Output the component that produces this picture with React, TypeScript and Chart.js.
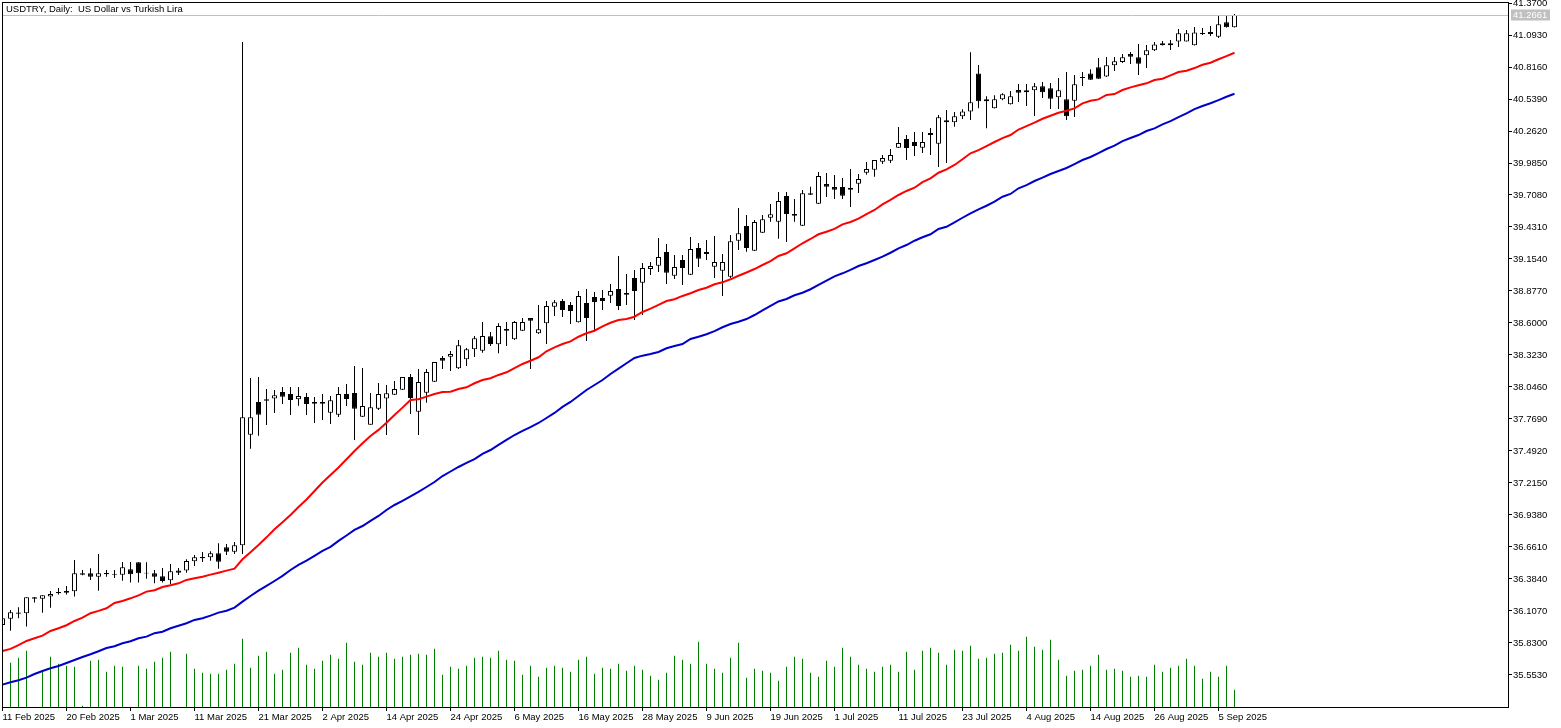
import { useEffect, useRef } from "react";
import { Chart, registerables } from "chart.js";
import type { Plugin } from "chart.js";

Chart.register(...registerables);

const title = "USDTRY, Daily:  US Dollar vs Turkish Lira";
const lastPrice = 41.2661;

// daily bars, left to right
const opens = [
  35.986, 36.040, 36.094, 36.087, 36.225, 36.213, 36.231, 36.271, 36.280, 36.277,
  36.433, 36.433, 36.403, 36.435, 36.421, 36.421, 36.468, 36.528, 36.438, 36.433,
  36.407, 36.372, 36.456, 36.456, 36.537, 36.574, 36.571, 36.606, 36.658, 36.620,
  36.675, 37.633, 37.916, 37.939, 37.945, 38.002, 37.985, 37.939, 37.959, 37.916,
  37.916, 37.823, 37.806, 37.985, 37.994, 37.789, 37.719, 37.858, 37.945, 37.979,
  38.022, 38.132, 37.832, 37.996, 38.092, 38.297, 38.308, 38.208, 38.286, 38.372,
  38.360, 38.485, 38.415, 38.548, 38.459, 38.533, 38.643, 38.511, 38.597, 38.741,
  38.790, 38.756, 38.606, 38.773, 38.825, 38.816, 38.836, 38.894, 38.860, 38.989,
  38.949, 39.067, 39.096, 39.214, 39.009, 39.145, 39.018, 39.249, 39.214, 39.087,
  39.053, 39.001, 39.312, 39.440, 39.226, 39.381, 39.511, 39.477, 39.699, 39.543,
  39.442, 39.723, 39.633, 39.803, 39.777, 39.777, 39.768, 39.806, 39.901, 39.927,
  39.996, 40.005, 40.117, 40.193, 40.167, 40.117, 40.245, 40.152, 40.337, 40.337,
  40.389, 40.432, 40.761, 40.519, 40.458, 40.536, 40.493, 40.617, 40.597, 40.614,
  40.649, 40.632, 40.554, 40.536, 40.524, 40.729, 40.761, 40.813, 40.735, 40.831,
  40.859, 40.929, 40.900, 40.917, 40.961, 41.004, 41.021, 41.038, 41.038, 41.004,
  41.110, 41.119, 41.078, 41.203, 41.160,
];
const highs = [
  36.055, 36.115, 36.139, 36.225, 36.228, 36.243, 36.280, 36.305, 36.323, 36.548,
  36.461, 36.476, 36.600, 36.461, 36.461, 36.531, 36.531, 36.528, 36.528, 36.461,
  36.479, 36.514, 36.479, 36.554, 36.591, 36.617, 36.623, 36.693, 36.687, 36.704,
  41.032, 38.124, 38.132, 38.028, 38.020, 38.046, 38.046, 38.046, 37.994, 37.959,
  37.985, 37.968, 38.046, 38.072, 38.228, 38.210, 37.994, 38.080, 38.063, 38.098,
  38.132, 38.158, 38.202, 38.202, 38.262, 38.314, 38.357, 38.453, 38.383, 38.487,
  38.608, 38.522, 38.597, 38.608, 38.617, 38.643, 38.643, 38.756, 38.790, 38.799,
  38.808, 38.782, 38.877, 38.894, 38.868, 38.885, 38.937, 39.180, 39.024, 39.059,
  39.119, 39.128, 39.336, 39.284, 39.188, 39.188, 39.344, 39.292, 39.318, 39.353,
  39.197, 39.362, 39.595, 39.535, 39.491, 39.535, 39.630, 39.734, 39.734, 39.673,
  39.751, 39.780, 39.907, 39.898, 39.881, 39.855, 39.933, 39.890, 39.994, 40.011,
  40.054, 40.106, 40.297, 40.227, 40.253, 40.253, 40.288, 40.400, 40.444, 40.426,
  40.450, 40.943, 40.833, 40.562, 40.571, 40.588, 40.608, 40.669, 40.669, 40.677,
  40.686, 40.677, 40.721, 40.773, 40.747, 40.773, 40.796, 40.894, 40.903, 40.903,
  40.929, 40.946, 41.015, 41.006, 41.032, 41.041, 41.050, 41.145, 41.136, 41.162,
  41.154, 41.171, 41.257, 41.266, 41.275,
];
const lows = [
  35.925, 35.936, 36.044, 35.971, 36.179, 36.092, 36.135, 36.248, 36.248, 36.231,
  36.416, 36.375, 36.282, 36.403, 36.392, 36.369, 36.352, 36.352, 36.386, 36.346,
  36.352, 36.340, 36.418, 36.438, 36.496, 36.531, 36.542, 36.473, 36.591, 36.600,
  36.600, 37.512, 37.624, 37.717, 37.821, 37.899, 37.803, 37.884, 37.803, 37.734,
  37.760, 37.725, 37.786, 37.881, 37.587, 37.786, 37.719, 37.847, 37.630, 37.976,
  38.020, 37.812, 37.630, 37.910, 38.089, 38.202, 38.184, 38.202, 38.228, 38.305,
  38.343, 38.401, 38.337, 38.401, 38.453, 38.530, 38.202, 38.505, 38.418, 38.660,
  38.652, 38.591, 38.604, 38.444, 38.539, 38.712, 38.773, 38.712, 38.756, 38.626,
  38.669, 39.015, 39.041, 38.937, 38.981, 38.929, 39.015, 39.085, 39.145, 38.989,
  38.834, 38.989, 39.232, 39.217, 39.223, 39.379, 39.477, 39.330, 39.301, 39.477,
  39.440, 39.708, 39.630, 39.691, 39.673, 39.673, 39.604, 39.725, 39.884, 39.866,
  39.976, 39.985, 40.115, 40.011, 40.046, 40.071, 40.054, 39.950, 39.985, 40.299,
  40.366, 40.357, 40.458, 40.285, 40.457, 40.528, 40.491, 40.513, 40.478, 40.392,
  40.548, 40.452, 40.452, 40.357, 40.383, 40.651, 40.703, 40.712, 40.729, 40.781,
  40.851, 40.842, 40.747, 40.807, 40.954, 41.002, 40.963, 40.989, 41.037, 41.002,
  41.093, 41.084, 41.067, 41.158, 41.158,
];
const closes = [
  36.044, 36.096, 36.083, 36.225, 36.213, 36.243, 36.254, 36.260, 36.265, 36.433,
  36.421, 36.403, 36.433, 36.424, 36.427, 36.485, 36.424, 36.433, 36.430, 36.403,
  36.366, 36.450, 36.438, 36.540, 36.571, 36.563, 36.606, 36.533, 36.620, 36.675,
  37.783, 37.783, 37.806, 37.927, 37.974, 37.962, 37.933, 37.968, 37.899, 37.901,
  37.901, 37.931, 37.985, 37.942, 37.858, 37.881, 37.870, 37.985, 37.991, 38.028,
  38.132, 37.950, 38.089, 38.176, 38.262, 38.273, 38.331, 38.407, 38.372, 38.467,
  38.487, 38.418, 38.574, 38.533, 38.608, 38.608, 38.620, 38.545, 38.747, 38.779,
  38.712, 38.704, 38.834, 38.643, 38.782, 38.790, 38.877, 38.747, 38.845, 38.877,
  39.076, 39.093, 39.171, 39.035, 39.085, 39.076, 39.240, 39.156, 39.197, 39.128,
  39.128, 39.307, 39.376, 39.249, 39.474, 39.497, 39.541, 39.656, 39.543, 39.529,
  39.723, 39.711, 39.872, 39.780, 39.754, 39.702, 39.754, 39.846, 39.933, 40.011,
  40.028, 40.054, 40.158, 40.115, 40.132, 40.167, 40.227, 40.381, 40.355, 40.389,
  40.432, 40.510, 40.519, 40.536, 40.536, 40.580, 40.562, 40.593, 40.614, 40.649,
  40.597, 40.542, 40.614, 40.389, 40.666, 40.721, 40.706, 40.715, 40.831, 40.865,
  40.900, 40.905, 40.845, 40.961, 41.012, 41.021, 41.004, 41.108, 41.108, 41.116,
  41.102, 41.102, 41.186, 41.160, 41.2661,
];

// red moving average
const maFast = [
  35.760, 35.778, 35.810, 35.847, 35.870, 35.893, 35.933, 35.957, 35.983, 36.020,
  36.049, 36.087, 36.107, 36.130, 36.176, 36.193, 36.216, 36.242, 36.274, 36.286,
  36.314, 36.329, 36.346, 36.375, 36.390, 36.403, 36.421, 36.438, 36.456, 36.473,
  36.554, 36.615, 36.678, 36.744, 36.814, 36.874, 36.938, 37.007, 37.072, 37.145,
  37.219, 37.284, 37.349, 37.420, 37.492, 37.558, 37.622, 37.674, 37.737, 37.803,
  37.867, 37.933, 37.939, 37.962, 37.985, 38.002, 38.005, 38.028, 38.043, 38.078,
  38.106, 38.121, 38.150, 38.173, 38.210, 38.245, 38.273, 38.303, 38.355, 38.389,
  38.418, 38.441, 38.481, 38.511, 38.533, 38.571, 38.602, 38.626, 38.634, 38.654,
  38.695, 38.724, 38.756, 38.790, 38.805, 38.834, 38.857, 38.885, 38.905, 38.935,
  38.952, 38.978, 39.009, 39.037, 39.067, 39.102, 39.136, 39.180, 39.203, 39.246,
  39.290, 39.327, 39.368, 39.390, 39.414, 39.454, 39.474, 39.503, 39.543, 39.578,
  39.627, 39.665, 39.708, 39.743, 39.771, 39.820, 39.852, 39.901, 39.930, 39.968,
  40.017, 40.069, 40.097, 40.132, 40.167, 40.201, 40.227, 40.275, 40.305, 40.334,
  40.368, 40.394, 40.420, 40.438, 40.458, 40.502, 40.524, 40.536, 40.574, 40.582,
  40.617, 40.640, 40.658, 40.675, 40.703, 40.715, 40.744, 40.773, 40.784, 40.807,
  40.836, 40.853, 40.883, 40.911, 40.940,
];

// blue moving average
const maSlow = [
  35.469, 35.489, 35.507, 35.529, 35.561, 35.587, 35.611, 35.630, 35.656, 35.682,
  35.708, 35.732, 35.758, 35.786, 35.801, 35.827, 35.844, 35.870, 35.884, 35.914,
  35.927, 35.957, 35.979, 36.000, 36.029, 36.044, 36.066, 36.092, 36.109, 36.135,
  36.187, 36.236, 36.282, 36.323, 36.366, 36.410, 36.461, 36.505, 36.542, 36.583,
  36.626, 36.661, 36.713, 36.760, 36.808, 36.842, 36.886, 36.929, 36.981, 37.024,
  37.059, 37.098, 37.137, 37.180, 37.223, 37.275, 37.314, 37.353, 37.388, 37.422,
  37.466, 37.500, 37.544, 37.587, 37.630, 37.665, 37.699, 37.734, 37.777, 37.821,
  37.873, 37.916, 37.968, 38.020, 38.063, 38.106, 38.158, 38.204, 38.251, 38.297,
  38.317, 38.331, 38.349, 38.381, 38.401, 38.418, 38.461, 38.481, 38.502, 38.530,
  38.563, 38.591, 38.611, 38.634, 38.669, 38.708, 38.747, 38.786, 38.808, 38.840,
  38.862, 38.892, 38.929, 38.966, 39.004, 39.030, 39.059, 39.093, 39.117, 39.145,
  39.174, 39.208, 39.246, 39.275, 39.312, 39.342, 39.368, 39.414, 39.433, 39.472,
  39.511, 39.549, 39.584, 39.615, 39.650, 39.693, 39.717, 39.766, 39.794, 39.829,
  39.859, 39.890, 39.916, 39.942, 39.976, 40.011, 40.037, 40.071, 40.106, 40.136,
  40.175, 40.201, 40.227, 40.262, 40.285, 40.320, 40.348, 40.383, 40.415, 40.452,
  40.478, 40.502, 40.530, 40.559, 40.585,
];

// tick volume
const volumes = [
  0, 443, 493, 563, 0, 350, 503, 433, 413, 403,
  13, 463, 473, 353, 413, 403, 0, 413, 383, 453,
  493, 553, 0, 533, 383, 343, 333, 333, 373, 433,
  683, 393, 513, 553, 333, 373, 543, 593, 423, 383,
  463, 523, 483, 643, 453, 423, 543, 503, 543, 483,
  503, 523, 533, 523, 583, 323, 403, 383, 413, 493,
  503, 493, 563, 473, 463, 323, 413, 303, 393, 413,
  393, 353, 473, 503, 333, 393, 383, 433, 363, 413,
  373, 313, 273, 343, 513, 473, 433, 653, 433, 383,
  343, 493, 643, 293, 383, 363, 343, 263, 403, 503,
  483, 343, 303, 463, 403, 593, 503, 423, 383, 353,
  403, 423, 353, 553, 373, 563, 593, 543, 423, 573,
  563, 613, 483, 493, 533, 543, 623, 563, 703, 603,
  573, 673, 473, 313, 363, 373, 413, 523, 373, 383,
  363, 303, 313, 303, 423, 353, 393, 413, 483, 413,
  283, 353, 303, 413, 173,
];

const priceTicks = [
  41.37, 41.093, 40.816, 40.539, 40.262, 39.985, 39.708, 39.431, 39.154, 38.877, 38.6,
  38.323, 38.046, 37.769, 37.492, 37.215, 36.938, 36.661, 36.384, 36.107, 35.83, 35.553,
];
const dateTickBars = [
  0, 8, 16, 24, 32, 40, 48, 56, 64, 72, 80, 88, 96, 104, 112, 120, 128, 136, 144, 152,
];
const dateTickLabels = [
  "11 Feb 2025", "20 Feb 2025", "1 Mar 2025", "11 Mar 2025", "21 Mar 2025", "2 Apr 2025",
  "14 Apr 2025", "24 Apr 2025", "6 May 2025", "16 May 2025", "28 May 2025", "9 Jun 2025",
  "19 Jun 2025", "1 Jul 2025", "11 Jul 2025", "23 Jul 2025", "4 Aug 2025", "14 Aug 2025",
  "26 Aug 2025", "5 Sep 2025",
];

const FONT = "Liberation Sans";
const FONT_SIZE = 9.5;

// frame, last price line and tag, symbol caption
const terminalLook: Plugin<"bar"> = {
  id: "terminalLook",
  afterDraw(chart) {
    const { ctx, chartArea, scales } = chart;
    const { left, right, top, bottom } = chartArea;
    const y = Math.round(scales.y.getPixelForValue(lastPrice)) + 0.5;
    ctx.save();
    ctx.lineWidth = 1;
    ctx.strokeStyle = "#c0c0c0";
    ctx.beginPath();
    ctx.moveTo(left, y);
    ctx.lineTo(right, y);
    ctx.stroke();
    ctx.strokeStyle = "#000";
    ctx.strokeRect(left + 0.5, top + 0.5, right - left, bottom - top);
    ctx.fillStyle = "#c0c0c0";
    ctx.fillRect(right + 3, y - 6, 39, 11);
    ctx.font = `${FONT_SIZE}px "${FONT}"`;
    ctx.textBaseline = "middle";
    ctx.fillStyle = "#fff";
    ctx.fillText(lastPrice.toFixed(4), right + 5, y);
    ctx.fillStyle = "#000";
    ctx.fillText(title, left + 4, 9);
    ctx.restore();
  },
};

export default function App() {
  const canvasRef = useRef<HTMLCanvasElement | null>(null);

  useEffect(() => {
    if (!canvasRef.current) return;

    const bodyColors = closes.map((c, i) => (c >= opens[i] ? "#ffffff" : "#000000"));

    const chart = new Chart(canvasRef.current, {
      type: "bar",
      data: {
        datasets: [
          {
            type: "line",
            data: maFast.map((y, x) => ({ x, y })),
            borderColor: "#ff0000",
            borderWidth: 2,
            pointRadius: 0,
            order: 1,
          },
          {
            type: "line",
            data: maSlow.map((y, x) => ({ x, y })),
            borderColor: "#0000cd",
            borderWidth: 2,
            pointRadius: 0,
            order: 1,
          },
          {
            data: opens.map((o, x) => ({ x, y: [o, closes[x]] })),
            backgroundColor: bodyColors,
            borderColor: "#000000",
            borderWidth: 1,
            borderSkipped: false,
            barThickness: 5,
            grouped: false,
            inflateAmount: 0,
            order: 2,
          },
          {
            data: lows.map((l, x) => ({ x, y: [l, highs[x]] })),
            backgroundColor: "#000000",
            borderWidth: 0,
            barThickness: 1,
            grouped: false,
            inflateAmount: 0,
            order: 3,
          },
          {
            data: volumes.map((y, x) => ({ x, y })),
            yAxisID: "vol",
            backgroundColor: "#008000",
            borderWidth: 0,
            barThickness: 1,
            grouped: false,
            inflateAmount: 0,
            order: 4,
          },
        ],
      } as any,
      options: {
        animation: false,
        responsive: false,
        devicePixelRatio: 1,
        events: [],
        layout: { padding: { top: 2, left: 2, right: 0, bottom: 0 } },
        plugins: { legend: { display: false }, tooltip: { enabled: false } },
        scales: {
          x: {
            type: "linear",
            offset: false,
            min: -0.0625,
            max: 188.1875,
            border: { display: false },
            grid: { offset: false, drawOnChartArea: false, tickLength: 4, color: "#000" },
            ticks: {
              align: "start",
              maxRotation: 0,
              autoSkip: false,
              padding: 1,
              color: "#000",
              font: { family: FONT, size: FONT_SIZE },
              callback: (v) => dateTickLabels[dateTickBars.indexOf(Number(v))] ?? "",
            },
            afterBuildTicks: (scale) => {
              scale.ticks = dateTickBars.map((value) => ({ value }));
            },
            afterFit: (scale) => {
              scale.height = 21;
              scale.paddingLeft = 0;
              scale.paddingRight = 0;
            },
          },
          y: {
            position: "right",
            min: 35.275,
            max: 41.379,
            border: { display: false },
            grid: { drawOnChartArea: false, tickLength: 4, color: "#000" },
            ticks: {
              padding: 1,
              autoSkip: false,
              color: "#000",
              font: { family: FONT, size: FONT_SIZE },
              callback: (v) => Number(v).toFixed(4),
            },
            afterBuildTicks: (scale) => {
              scale.ticks = priceTicks.map((value) => ({ value }));
            },
            afterFit: (scale) => {
              scale.width = 53;
              scale.paddingTop = 0;
              scale.paddingBottom = 0;
            },
          },
          vol: { display: false, min: 0, max: 7050 },
        },
      },
      plugins: [terminalLook],
    });

    return () => {
      chart.destroy();
    };
  }, []);

  return (
    <div style={{ position: "absolute", left: 0, top: 0, width: 1561, height: 728, background: "#fff" }}>
      <canvas ref={canvasRef} width={1561} height={728} style={{ display: "block" }} />
    </div>
  );
}
